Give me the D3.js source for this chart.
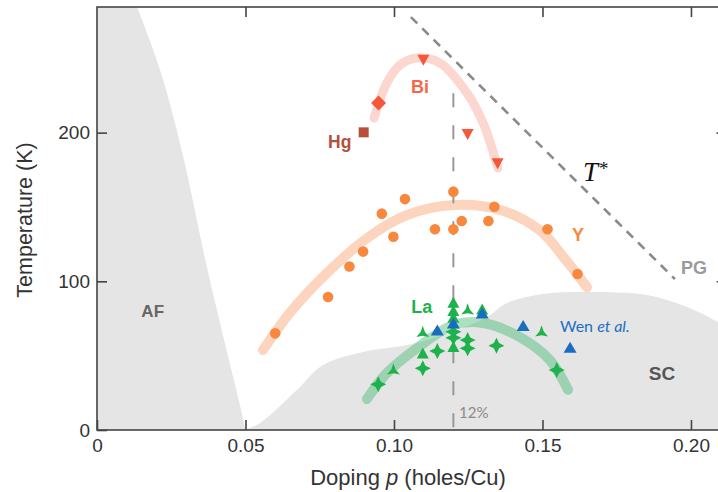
<!DOCTYPE html>
<html><head><meta charset="utf-8">
<script src="https://cdn.jsdelivr.net/npm/d3@7"></script>
<style>body{margin:0;background:#fff}svg{display:block}</style>
</head><body>
<svg id="c" width="718" height="492"></svg>
<script>
// ---------- data ----------
const xTicks = [0, 0.05, 0.10, 0.15, 0.20];
const xTickLabels = ["0", "0.05", "0.10", "0.15", "0.20"];
const yTicks = [0, 100, 200];
const yTickLabels = ["0", "100", "200"];

// AF region boundary (p, T) from top to bottom
const afBoundary = [[0.0135,284.5],[0.0185,258],[0.0226,233.4],[0.0293,181.6],[0.037,109.6],[0.0428,60.5],[0.0495,4.7],[0.0498,0]];
// SC dome top boundary
const scBoundary = [[0.0498,0],[0.0549,4.7],[0.0673,26.9],[0.0761,43.7],[0.0896,52.5],[0.1044,57.2],[0.117,64],[0.1313,76],[0.138,85.4],[0.1502,91.5],[0.166,92.8],[0.1852,90.8],[0.1987,82.7],[0.2091,72.6],[0.216,64]];

// pseudogap T* line
const tStarLine = [[0.1057,277.7],[0.1946,101.5]];
// 12% reference line
const p12Line = [[0.12,226.5],[0.12,0]];

// guide bands
const biBand = [[0.0933,209.8],[0.0976,233.4],[0.102,245.5],[0.1077,250.2],[0.1155,246.8],[0.1246,226.6],[0.13,206.5],[0.135,176.2]];
const yBand  = [[0.0559,53.8],[0.065,79],[0.0761,103],[0.0909,129],[0.1044,144.6],[0.12,151.3],[0.1357,148],[0.149,134.5],[0.158,114],[0.165,96]];
const laBand = [[0.0909,20.8],[0.0976,38.3],[0.1077,55],[0.12,70.6],[0.13,72],[0.1424,62.5],[0.1525,47],[0.1586,27]];

// data points
const yDots = [[0.060,65],[0.0778,89.5],[0.085,110],[0.0896,120],[0.0998,130],[0.0959,145.5],[0.1037,155.3],[0.1138,135],[0.12,135],[0.12,160.3],[0.1228,140.6],[0.1318,140.6],[0.1338,150.2],[0.1517,135],[0.1618,104.9]];
const biDown = [[0.1099,249.5],[0.1248,199.5],[0.1349,179.8]];
const biDiamond = [[0.0948,220]];
const hgSquare = [[0.0898,200.2]];
const laTriangles = [[0.12,85.2],[0.12,79.6],[0.12,75.1],[0.1297,80.7],[0.1097,51.1],[0.12,55.4]];
const laStars = [[0.12,66],[0.12,62],[0.1248,60.5],[0.1248,54.9],[0.1345,56.7],[0.1146,53.1],[0.1097,41.5],[0.0947,30.7],[0.1548,40.3]];
const laTris = [[0.1248,80.2],[0.1097,65],[0.0998,39.9],[0.1497,65.4]];
const wenTriangles = [[0.12,71.3],[0.1297,78],[0.1146,66.6],[0.1435,69.5],[0.1593,54.9]];

// ---------- drawing ----------
const svg = d3.select("#c");
const x = d3.scaleLinear().domain([0, 0.212]).range([97, 726.6]);
const y = d3.scaleLinear().domain([0, 284.5]).range([430, 7]);
const X0 = x.range()[0], X1 = x.range()[1], Y0 = y.range()[0], Y1 = y.range()[1];

svg.append("rect").attr("width",718).attr("height",492).attr("fill","#fff");
svg.append("clipPath").attr("id","clip").append("rect")
  .attr("x",X0).attr("y",Y1).attr("width",X1-X0).attr("height",Y0-Y1);
const g = svg.append("g").attr("clip-path","url(#clip)");

const GRAY = "#e5e5e5";
const smooth = d3.line().x(d=>x(d[0])).y(d=>y(d[1])).curve(d3.curveCatmullRom);
const lin = d3.line().x(d=>x(d[0])).y(d=>y(d[1]));
// AF region
g.append("path").attr("fill",GRAY)
  .attr("d", smooth(afBoundary) + `L${x(0)},${y(0)}L${x(0)},${y(284.5)}Z`);
// SC dome
g.append("path").attr("fill",GRAY)
  .attr("d", smooth(scBoundary) + `L${x(0.216)},${y(0)}Z`);

// T* dashed line
g.append("path").attr("d", lin(tStarLine)).attr("stroke","#8a8a8a")
  .attr("stroke-width",2.6).attr("stroke-dasharray","9,7").attr("fill","none");

// bands
g.append("path").attr("d", smooth(biBand)).attr("stroke","#fbd7cf").attr("stroke-width",9)
  .attr("stroke-linecap","round").attr("fill","none");
g.append("path").attr("d", smooth(yBand)).attr("stroke","#fdd5bf").attr("stroke-width",10)
  .attr("stroke-linecap","round").attr("fill","none");
g.append("path").attr("d", smooth(laBand)).attr("stroke","rgba(55,180,105,0.42)").attr("stroke-width",10)
  .attr("stroke-linecap","round").attr("fill","none");

// 12% line
g.append("path").attr("d", lin(p12Line)).attr("stroke","#999")
  .attr("stroke-width",2).attr("stroke-dasharray","14,18").attr("fill","none");

// marker shapes
function triUp(w,h){return `M0,${-h*0.6}L${w/2},${h*0.4}L${-w/2},${h*0.4}Z`;}
function triDown(w,h){return `M0,${h*0.6}L${w/2},${-h*0.4}L${-w/2},${-h*0.4}Z`;}
function diamond(r){return `M0,${-r}L${r},0L0,${r}L${-r},0Z`;}
function star4(r){const a=r*0.33;return `M0,${-r}L${a},${-a}L${r},0L${a},${a}L0,${r}L${-a},${a}L${-r},0L${-a},${-a}Z`;}
function star3(r){const ri=r*0.33;let s="";for(let i=0;i<6;i++){const ang=-Math.PI/2+i*Math.PI/3;const rr=i%2?ri:r;s+=(i?"L":"M")+(rr*Math.cos(ang)).toFixed(2)+","+(rr*Math.sin(ang)).toFixed(2);}return s+"Z";}

function drawMarks(data, pathStr, fill){
  g.append("g").selectAll("path").data(data).join("path")
    .attr("transform", d=>`translate(${x(d[0])},${y(d[1])})`)
    .attr("d", pathStr).attr("fill", fill);
}
// Y dots
g.append("g").selectAll("circle").data(yDots).join("circle")
  .attr("cx",d=>x(d[0])).attr("cy",d=>y(d[1])).attr("r",5.3).attr("fill","#f7883e");
// Bi & Hg
drawMarks(biDown, triDown(12,11), "#f4573a");
drawMarks(biDiamond, diamond(7.5), "#f4573a");
g.append("g").selectAll("rect").data(hgSquare).join("rect")
  .attr("x",d=>x(d[0])-5).attr("y",d=>y(d[1])-5).attr("width",10).attr("height",10).attr("fill","#b4503b");
// La
const GREEN = "#1db24b";
drawMarks(laTris, star3(7.5), GREEN);
drawMarks(laStars, star4(8), GREEN);
drawMarks(laTriangles, triUp(12,11), GREEN);
drawMarks(wenTriangles, triUp(13,11), "#1a6cc1");

// ---------- labels ----------
function label(t, px, py, size, fill, opts={}){
  const el = svg.append("text").attr("x",px).attr("y",py).attr("font-size",size)
    .attr("fill",fill).attr("text-anchor",opts.anchor||"middle")
    .attr("font-family",opts.family||"'Liberation Sans', Arial, sans-serif")
    .attr("font-weight",opts.weight||"bold").text(t);
  return el;
}
label("Bi", 420, 92.7, 18, "#f4674b");
label("Hg", 339.7, 148.3, 17.5, "#b24f3d");
label("Y", 578, 240.7, 18, "#f7883e");
label("La", 421.7, 313.3, 18, GREEN);
label("AF", 152.7, 317.3, 17, "#666");
label("SC", 662, 380, 19, "#555");
label("PG", 694, 274, 18, "#9a9a9a");
label("12%", 459, 417.7, 15, "#8a8a8a", {anchor:"start", weight:"normal", family:"Lato, 'Open Sans', sans-serif"});
const wen = svg.append("text").attr("x",560).attr("y",331.7).attr("font-size",16)
  .attr("fill","#1a6fc4").attr("font-family","Lato, 'Open Sans', sans-serif");
wen.append("tspan").text("Wen ");
wen.append("tspan").attr("font-style","italic").text("et al.");
const ts = svg.append("text").attr("x",583).attr("y",180.7).attr("fill","#111")
  .attr("font-family","'Liberation Serif', 'DejaVu Serif', serif");
ts.append("tspan").attr("font-size",27).attr("font-style","italic").text("T");
ts.append("tspan").attr("font-size",19).attr("dy",-6).attr("dx",1).text("*");

// ---------- axes / frame ----------
const AX = "#444";
svg.append("rect").attr("x",X0).attr("y",Y1).attr("width",X1-X0).attr("height",Y0-Y1)
  .attr("fill","none").attr("stroke",AX).attr("stroke-width",1.6);

const fontFam = "'Liberation Sans', Arial, sans-serif";
const axB = svg.append("g").attr("transform",`translate(0,${Y0})`)
  .call(d3.axisBottom(x).tickValues(xTicks).tickSize(-10).tickPadding(9)
    .tickFormat((d,i)=>xTickLabels[i]));
const axL = svg.append("g").attr("transform",`translate(${X0},0)`)
  .call(d3.axisLeft(y).tickValues(yTicks).tickSize(-10).tickPadding(7)
    .tickFormat((d,i)=>yTickLabels[i]));
const axT = svg.append("g").attr("transform",`translate(0,${Y1})`)
  .call(d3.axisTop(x).tickValues(xTicks.slice(1)).tickSize(-10).tickFormat(""));
const axR = svg.append("g").attr("transform",`translate(${X1},0)`)
  .call(d3.axisRight(y).tickValues(yTicks.slice(1)).tickSize(-10).tickFormat(""));
[axB,axL,axT,axR].forEach(a=>{
  a.select(".domain").remove();
  a.selectAll(".tick line").attr("stroke",AX).attr("stroke-width",1.6);
  a.selectAll("text").attr("font-family",fontFam).attr("font-size",19).attr("fill","#333");
});

// axis titles
const xt = svg.append("text").attr("x",408).attr("y",485).attr("text-anchor","middle")
  .attr("font-family",fontFam).attr("font-size",22).attr("fill","#333");
xt.append("tspan").text("Doping ");
xt.append("tspan").attr("font-style","italic").text("p");
xt.append("tspan").text(" (holes/Cu)");
svg.append("text").attr("transform","translate(32,220) rotate(-90)").attr("text-anchor","middle")
  .attr("font-family",fontFam).attr("font-size",21.5).attr("fill","#333").text("Temperature (K)");
</script>
</body></html>
